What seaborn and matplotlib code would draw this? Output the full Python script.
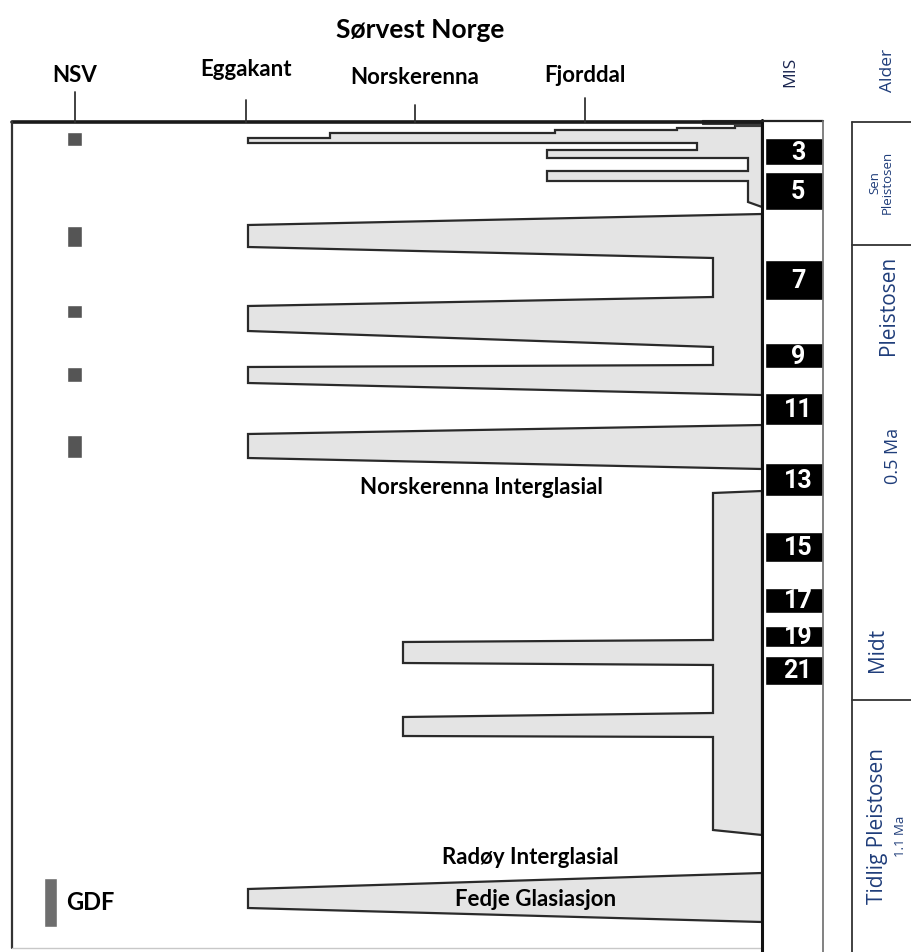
import matplotlib
matplotlib.use("Agg")
import matplotlib.pyplot as plt
import seaborn as sns

sns.set_theme(style="white")
plt.rcParams['font.family'] = ['Lato', 'DejaVu Sans']
plt.rcParams['text.color'] = 'black'

# -------------------------
# Data (diagram units: x along the profile, y down the time column)
# -------------------------
zone_names = ["NSV", "Eggakant", "Norskerenna", "Fjorddal"]
zone_x = [75, 246, 415, 585]
zone_label_y = [75, 70, 78, 75]
zone_tick_top = [92, 100, 105, 98]

mis_stages = [3, 5, 7, 9, 11, 13, 15, 17, 19, 21]
mis_top = [138, 172, 260, 343, 393, 463, 532, 588, 626, 656]
mis_bottom = [165, 210, 300, 368, 425, 496, 562, 613, 647, 685]

nsv_top = [132, 226, 305, 367, 435]
nsv_bottom = [146, 247, 318, 382, 458]

# ice extent outlines
late_x = [762, 735, 735, 677, 677, 555, 555, 330, 330, 248, 248, 697, 697, 547, 547,
          748, 748, 547, 547, 748, 748, 762]
late_y = [125, 125, 128, 128, 130, 130, 133, 133, 138, 138, 143, 143, 150, 150, 158,
          158, 171, 171, 181, 181, 202, 207]
lgm_x = [702, 762, 762, 735, 735, 702]
lgm_y = [120, 120, 126, 126, 124, 124]
mid_x = [762, 248, 248, 713, 713, 248, 248, 713, 713, 248, 248, 762]
mid_y = [214, 225, 247, 258, 297, 306, 331, 347, 365, 367, 383, 395]
mis12_x = [762, 248, 248, 762]
mis12_y = [425, 434, 458, 469]
early_x = [762, 713, 713, 403, 403, 713, 713, 403, 403, 713, 713, 762]
early_y = [491, 493, 640, 642, 663, 665, 713, 717, 736, 737, 830, 835]
fedje_x = [762, 248, 248, 762]
fedje_y = [873, 889, 908, 922]

age_breaks = [122, 245, 700]
age_labels = ["Pleistosen", "0.5 Ma", "Midt", "Tidlig Pleistosen"]
age_label_x = [889, 893, 878, 878]
age_label_y = [305, 456, 650, 826]
age_label_size = [15, 13, 15, 15]

ICE = "#e4e4e4"
EDGE = "#2a2a2a"
NAVY = "#1f3d7a"
RIGHT_FONT = ['Open Sans', 'DejaVu Sans']

fig = plt.figure(figsize=(9.12, 9.52), dpi=100)
ax = fig.add_axes([0, 0, 1, 1])
ax.set_xlim(0, 912)
ax.set_ylim(952, 0)
ax.axis('off')

# ice tongues
for xs, ys in [(late_x, late_y), (mid_x, mid_y), (mis12_x, mis12_y),
               (early_x, early_y), (fedje_x, fedje_y)]:
    ax.fill(xs, ys, facecolor=ICE, edgecolor=EDGE, lw=1.6, joinstyle='miter')
ax.fill(lgm_x, lgm_y, facecolor="#3a3a3a", edgecolor="#3a3a3a", lw=0.8)

# NSV deposits
ax.bar([zone_x[0]] * len(nsv_top), [b - t for t, b in zip(nsv_top, nsv_bottom)],
       bottom=nsv_top, width=15, color="#555555", align='center')
ax.bar([50.5], [49], bottom=[878], width=13, color="#6e6e6e")
ax.text(66, 903, "GDF", fontsize=17, fontweight='bold', va='center', ha='left')

# frame
ax.plot([12, 762], [122, 122], color="#1a1a1a", lw=2.6)
ax.plot([12, 12], [122, 948], color="#333333", lw=1.6)
ax.plot([12, 762], [948, 948], color="#c8c8c8", lw=1.0)
ax.plot([762, 762], [120, 952], color="#111111", lw=2.2)

# zone ticks and labels
for name, x, ly, tt in zip(zone_names, zone_x, zone_label_y, zone_tick_top):
    ax.plot([x, x], [tt, 122], color="#333333", lw=1.3)
    ax.text(x, ly, name, fontsize=16, fontweight='bold', ha='center', va='center')
ax.text(420, 30, "Sørvest Norge", fontsize=19, fontweight='bold', ha='center', va='center')

# MIS column
ax.plot([762, 823], [121, 121], color="#222222", lw=1.6)
ax.plot([823, 823], [121, 952], color="#777777", lw=1.3)
ax.bar([794] * len(mis_stages), [b - t for t, b in zip(mis_top, mis_bottom)],
       bottom=mis_top, width=58, color="black")
for s, t, b in zip(mis_stages, mis_top, mis_bottom):
    ax.text(798, (t + b) / 2 + 1, str(s), color='white', fontsize=18, fontweight='bold',
            ha='center', va='center', family=['Liberation Sans Narrow', 'Roboto'])
ax.text(790, 72, "MIS", rotation=90, fontsize=12.5, ha='center', va='center', color="#1a2550",
        family=RIGHT_FONT)

# age column
ax.plot([852, 852], [122, 952], color="#333333", lw=1.3)
for yb in age_breaks:
    ax.plot([852, 912], [yb, yb], color="#333333", lw=1.3)
ax.text(888, 70, "Alder", rotation=90, fontsize=12.5, ha='center', va='center', color=NAVY,
        family=RIGHT_FONT)
ax.text(881, 182, "Sen\nPleistosen", rotation=90, fontsize=9.5, ha='center', va='center',
        color=NAVY, linespacing=1.0, family=RIGHT_FONT)
for lab, lx, ly, fs in zip(age_labels, age_label_x, age_label_y, age_label_size):
    ax.text(lx, ly, lab, rotation=90, fontsize=fs, ha='center', va='center', color=NAVY,
            family=RIGHT_FONT)
ax.text(901, 836, "1.1 Ma", rotation=90, fontsize=9.5, ha='center', va='center', color=NAVY,
        family=RIGHT_FONT)

# annotations
ax.text(481, 487, "Norskerenna Interglasial", fontsize=16, fontweight='bold', ha='center', va='center')
ax.text(530, 857, "Radøy Interglasial", fontsize=16, fontweight='bold', ha='center', va='center')
ax.text(536, 900, "Fedje Glasiasjon", fontsize=16, fontweight='bold', ha='center', va='center')

fig.savefig("out.png", dpi=100, facecolor='white')
